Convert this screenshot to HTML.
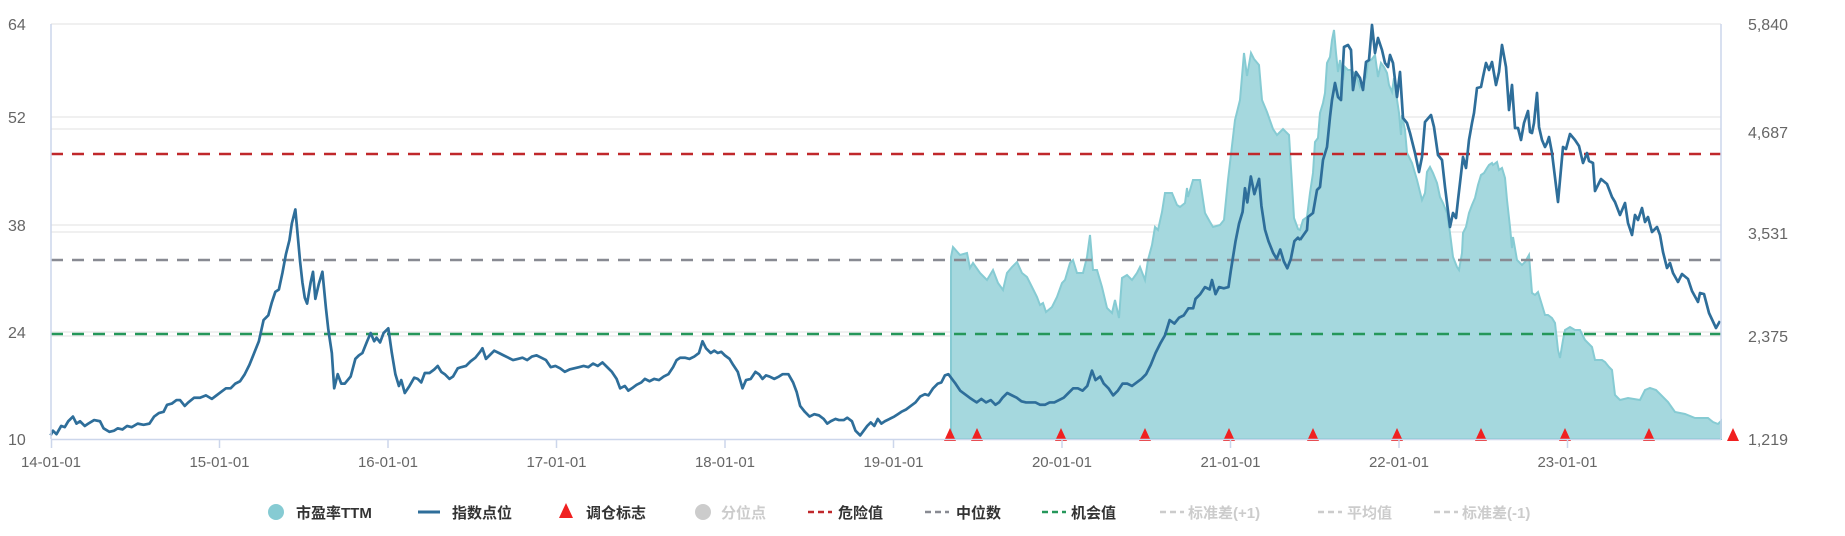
<!DOCTYPE html>
<html><head><meta charset="utf-8"><style>
html,body{margin:0;padding:0;background:#fff;}
svg{display:block;font-family:"Liberation Sans","Noto Sans CJK SC",sans-serif;}
</style></head><body>
<svg width="1845" height="536" viewBox="0 0 1845 536" xmlns="http://www.w3.org/2000/svg">
<rect width="1845" height="536" fill="#fff"/>
<!-- grid -->
<g stroke="#e6e6e6" stroke-width="1.2">
<line x1="51" y1="24" x2="1721" y2="24"/>
<line x1="51" y1="117" x2="1721" y2="117"/>
<line x1="51" y1="129" x2="1721" y2="129"/>
<line x1="51" y1="225" x2="1721" y2="225"/>
<line x1="51" y1="232" x2="1721" y2="232"/>
<line x1="51" y1="332" x2="1721" y2="332"/>
<line x1="51" y1="336" x2="1721" y2="336"/>
</g>
<!-- PE area -->
<path fill="#a5d8de" stroke="#86cbd3" stroke-width="2" d="M951,439 L951,257 953,247 960,255 967,253 970,268 973,263 980,273 987,280 993,270 998,283 1003,290 1007,273 1012,267 1017,262 1022,273 1027,277 1032,287 1037,297 1040,305 1043,303 1046,312 1052,307 1057,297 1062,283 1065,280 1070,263 1073,260 1077,273 1083,273 1087,257 1090,235 1093,270 1097,270 1102,287 1107,308 1112,313 1115,300 1119,318 1122,278 1127,275 1132,280 1137,273 1140,267 1145,280 1148,260 1152,245 1155,227 1158,230 1162,212 1165,193 1172,193 1177,205 1180,207 1185,203 1187,188 1188,197 1193,180 1200,180 1205,213 1210,222 1213,227 1220,225 1224,220 1228,180 1235,120 1240,100 1244,53 1247,76 1251,53 1254,59 1259,65 1262,100 1267,112 1273,129 1277,135 1283,129 1289,135 1294,218 1298,229 1300,230 1303,220 1307,217 1310,193 1313,173 1315,142 1318,138 1320,113 1323,103 1325,93 1327,63 1330,57 1332,40 1334,30 1336,53 1338,72 1340,60 1343,80 1345,67 1348,70 1351,70 1353,72 1357,77 1360,87 1363,83 1366,77 1368,62 1372,59 1375,55 1378,77 1381,63 1384,67 1387,73 1389,85 1392,92 1394,78 1396,93 1399,113 1401,135 1402,115 1405,130 1407,153 1412,163 1417,180 1422,200 1425,193 1427,172 1430,167 1433,173 1437,183 1440,197 1443,203 1447,213 1450,233 1453,257 1457,267 1459,270 1462,253 1463,233 1466,227 1469,213 1472,205 1475,198 1478,185 1481,175 1484,173 1487,168 1489,165 1492,163 1493,165 1497,162 1499,170 1502,168 1505,178 1507,200 1510,227 1512,248 1513,237 1517,260 1522,265 1525,262 1529,255 1532,293 1535,295 1538,292 1542,305 1545,315 1548,315 1552,318 1555,323 1558,350 1560,358 1563,340 1565,330 1570,327 1575,330 1580,330 1585,340 1588,343 1592,347 1595,360 1602,360 1605,362 1609,367 1612,370 1615,395 1620,400 1628,398 1640,400 1645,390 1650,388 1656,390 1660,394 1668,402 1675,412 1685,414 1695,418 1708,418 1713,422 1718,424 1721,421 L1721,439 Z"/>
<!-- ref lines -->
<g stroke-width="2.5" stroke-dasharray="12,9">
<line x1="51" y1="154" x2="1721" y2="154" stroke="#c0282b"/>
<line x1="51" y1="260" x2="1721" y2="260" stroke="#888a92"/>
<line x1="51" y1="334" x2="1721" y2="334" stroke="#25975a"/>
</g>
<!-- index line early (perceived coords scaled) -->
<g transform="scale(1.1767)" fill="none" stroke="#2e6e9a" stroke-width="2.3" stroke-linejoin="round">
<polyline points="43,370 45,366 48,369 52,362 55,363 58,358 62,354 65,360 68,358 72,362 75,360 80,357 85,358 88,364 93,367 97,366 100,364 104,365 108,362 112,363 117,360 122,361 127,360 131,354 135,351 139,350 142,344 146,343 150,340 153,340 157,345 160,342 165,338 170,338 175,336 180,339 184,336 188,333 192,330 196,330 200,326 204,324 208,318 212,310 216,300 220,290 224,272 228,268 231,257 234,248 237,246 240,232 243,216 246,204 248,190 251,178 253,200 255,222 257,240 259,253 261,258 264,240 266,231 268,254 271,241 274,231 277,262 279,280 282,300 284,330 287,318 290,326 293,326 298,320 302,305 305,302 308,300 312,290 315,283 318,290 320,287 323,291 326,283 330,279 333,300 336,318 339,328 341,323 344,334 348,328 352,321 355,322 358,325 361,317 365,317 369,314 372,311 375,316 378,318 382,322 385,320 389,313 392,312 396,311 400,307 404,304 408,299 410,296 413,305 416,302 420,298 424,300 428,302 432,304 436,306 440,305 444,304 448,306 452,303 456,302 460,304 464,306 468,312 472,311 476,313 480,316 484,314 488,313 492,312 496,311 500,312 504,309 508,311 512,308 516,312 520,316 524,322 527,330 531,328 534,332 537,330 541,327 545,325 548,322 552,324 556,322 560,323 564,320 568,318 572,312 575,306 578,304 582,304 586,305 590,303 594,300 597,290 600,296 604,300 607,298 610,300 613,299 616,302 620,305 623,310 627,316 631,330 634,323 638,322 642,316 645,318 648,322 651,319 654,320 658,322 662,320 665,318 670,318 674,325 677,333 680,345 684,350 688,354 692,352 696,353 700,356 703,360 706,358 710,356 713,357 717,357 720,355 724,358 727,366 731,370 734,366 737,362 740,359 743,362 746,356 749,360 752,358 756,356 760,354 763,352 766,350 770,348 774,345 778,342 782,337 786,335 789,336 793,330 797,326 800,325 803,319 806,318 809,322 812,326 816,332 820,335 824,338 827,340 830,342 834,339 838,342 842,340 846,344 849,342 852,338 856,334 860,336 864,338 868,341 872,342 876,342 880,342 884,344 888,344 892,342 896,342 900,340 904,338 908,334 912,330 916,330 920,332 924,328 928,315 931,323 935,320 938,326 942,330 946,336 950,332 954,326 958,326 962,328 966,325 970,322 974,318 978,310 982,300 986,292 990,285 994,272 998,275 1002,270 1006,268 1010,262 1014,262 1016,254 1020,250 1024,244 1028,246 1030,238 1033,250 1036,244 1040,245 1044,244 1046,230 1050,205 1053,190 1056,180 1058,160 1060,172 1063,150 1066,165 1070,152 1072,175 1075,195 1078,205 1082,215 1085,220 1088,212 1091,222 1094,228 1097,220 1100,205 1103,202 1105,204"/>
</g>
<!-- index line late (real coords) -->
<polyline fill="none" stroke="#2e6e9a" stroke-width="2.7" stroke-linejoin="round" points="1300,240 1307,230 1308,217 1313,213 1317,190 1320,187 1323,160 1327,147 1330,117 1332,100 1335,83 1338,97 1341,100 1344,47 1348,45 1351,50 1353,90 1356,72 1360,78 1363,90 1366,62 1369,60 1372,25 1375,53 1378,38 1382,50 1385,63 1388,67 1390,55 1393,63 1397,97 1400,72 1403,118 1407,123 1410,133 1415,153 1419,172 1422,157 1425,122 1431,115 1434,127 1438,155 1442,160 1445,187 1450,227 1453,213 1456,218 1458,200 1463,157 1466,168 1469,140 1472,123 1474,113 1477,88 1481,87 1483,77 1486,63 1489,70 1492,62 1496,85 1499,72 1502,45 1506,67 1509,110 1512,85 1515,128 1518,128 1521,140 1524,123 1528,111 1530,132 1532,133 1534,123 1537,93 1539,127 1542,140 1545,147 1547,143 1549,137 1552,153 1558,202 1563,147 1566,149 1570,134 1575,140 1579,146 1583,163 1587,153 1589,161 1593,163 1595,191 1601,179 1607,184 1612,197 1615,202 1620,215 1625,203 1628,223 1632,235 1635,215 1638,220 1642,208 1645,222 1648,217 1652,232 1657,227 1660,235 1663,252 1667,268 1670,263 1673,273 1678,282 1682,274 1688,279 1692,291 1698,302 1700,293 1704,294 1709,313 1716,328 1720,321"/>
<!-- triangles -->
<g fill="#f02020">
<polygon points="950,428 944,441 956,441"/>
<polygon points="977,428 971,441 983,441"/>
<polygon points="1061,428 1055,441 1067,441"/>
<polygon points="1145,428 1139,441 1151,441"/>
<polygon points="1229,428 1223,441 1235,441"/>
<polygon points="1313,428 1307,441 1319,441"/>
<polygon points="1397,428 1391,441 1403,441"/>
<polygon points="1481,428 1475,441 1487,441"/>
<polygon points="1565,428 1559,441 1571,441"/>
<polygon points="1649,428 1643,441 1655,441"/>
<polygon points="1733,428 1727,441 1739,441"/>
</g>
<!-- axes -->
<g stroke="#ccd6eb" stroke-width="1.5">
<line x1="51" y1="439.5" x2="1721" y2="439.5"/>
<line x1="51" y1="24" x2="51" y2="439"/>
<line x1="1721" y1="24" x2="1721" y2="439"/>
<line x1="51.5" y1="439" x2="51.5" y2="448"/>
<line x1="219.5" y1="439" x2="219.5" y2="448"/>
<line x1="388" y1="439" x2="388" y2="448"/>
<line x1="556.5" y1="439" x2="556.5" y2="448"/>
<line x1="725" y1="439" x2="725" y2="448"/>
<line x1="893.5" y1="439" x2="893.5" y2="448"/>
<line x1="1062" y1="439" x2="1062" y2="448"/>
<line x1="1230.5" y1="439" x2="1230.5" y2="448"/>
<line x1="1399" y1="439" x2="1399" y2="448"/>
<line x1="1567.5" y1="439" x2="1567.5" y2="448"/>
</g>
<g fill="#666" font-size="16">
<text x="8" y="30">64</text><text x="8" y="123">52</text><text x="8" y="231">38</text><text x="8" y="338">24</text><text x="8" y="445">10</text>
</g>
<g fill="#666" font-size="16" text-anchor="end">
<text x="1788" y="30">5,840</text><text x="1788" y="138">4,687</text><text x="1788" y="239">3,531</text><text x="1788" y="342">2,375</text><text x="1788" y="445">1,219</text>
</g>
<g fill="#666" font-size="15" text-anchor="middle">
<text x="51" y="467">14-01-01</text><text x="219.5" y="467">15-01-01</text><text x="388" y="467">16-01-01</text><text x="556.5" y="467">17-01-01</text><text x="725" y="467">18-01-01</text><text x="893.5" y="467">19-01-01</text><text x="1062" y="467">20-01-01</text><text x="1230.5" y="467">21-01-01</text><text x="1399" y="467">22-01-01</text><text x="1567.5" y="467">23-01-01</text>
</g>
<!-- legend -->
<g font-size="15" font-weight="bold" fill="#333">
<circle cx="276" cy="512" r="8" fill="#86cbd3"/><text x="296" y="518">市盈率TTM</text>
<line x1="418" y1="512" x2="440" y2="512" stroke="#2e6e9a" stroke-width="3"/><text x="452" y="518">指数点位</text>
<polygon points="566,503 559,518 573,518" fill="#f02020"/><text x="586" y="518">调仓标志</text>
<circle cx="703" cy="512" r="8" fill="#ccc"/><text x="721" y="518" fill="#ccc">分位点</text>
<line x1="808" y1="512" x2="832" y2="512" stroke="#c0282b" stroke-width="2.5" stroke-dasharray="6,4"/><text x="838" y="518">危险值</text>
<line x1="925" y1="512" x2="949" y2="512" stroke="#888a92" stroke-width="2.5" stroke-dasharray="6,4"/><text x="956" y="518">中位数</text>
<line x1="1042" y1="512" x2="1066" y2="512" stroke="#25975a" stroke-width="2.5" stroke-dasharray="6,4"/><text x="1071" y="518">机会值</text>
<line x1="1160" y1="512" x2="1184" y2="512" stroke="#ccc" stroke-width="2.5" stroke-dasharray="6,4"/><text x="1188" y="518" fill="#ccc">标准差(+1)</text>
<line x1="1318" y1="512" x2="1342" y2="512" stroke="#ccc" stroke-width="2.5" stroke-dasharray="6,4"/><text x="1347" y="518" fill="#ccc">平均值</text>
<line x1="1434" y1="512" x2="1458" y2="512" stroke="#ccc" stroke-width="2.5" stroke-dasharray="6,4"/><text x="1462" y="518" fill="#ccc">标准差(-1)</text>
</g>
</svg>
</body></html>
